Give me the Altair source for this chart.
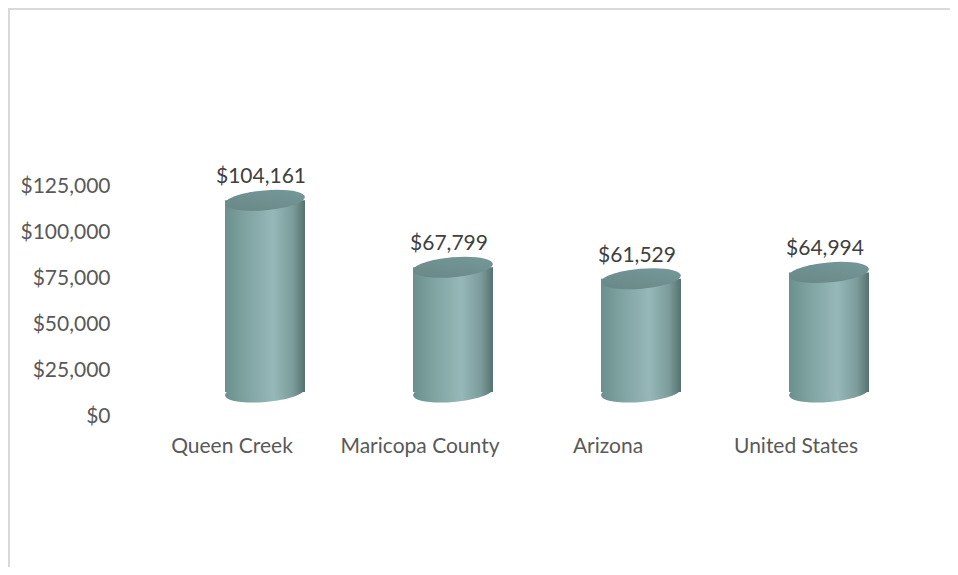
import altair as alt
import pandas as pd

categories = ["Queen Creek", "Maricopa County", "Arizona", "United States"]
values = [104161, 67799, 61529, 64994]
y_ticks = [0, 25000, 50000, 75000, 100000, 125000]

df = pd.DataFrame({"place": categories, "income": values})

FONT = "Lato"
FS = 21
DX = 33
DY = -24

side_grad = alt.Gradient(
    gradient="linear", x1=0, x2=1, y1=0, y2=0,
    stops=[
        alt.GradientStop(offset=0.0, color="#6b8f8d"),
        alt.GradientStop(offset=0.25, color="#7ea3a1"),
        alt.GradientStop(offset=0.6, color="#96b8b8"),
        alt.GradientStop(offset=0.85, color="#7b9c9b"),
        alt.GradientStop(offset=1.0, color="#55726f"),
    ],
)
top_grad = alt.Gradient(
    gradient="linear", x1=0, x2=1, y1=1, y2=0,
    stops=[
        alt.GradientStop(offset=0.0, color="#668785"),
        alt.GradientStop(offset=1.0, color="#78999a"),
    ],
)

ellipse = ("M -1 0 C -1 -0.138 -0.5523 -0.25 0 -0.25 C 0.5523 -0.25 1 -0.138 1 0 "
           "C 1 0.138 0.5523 0.25 0 0.25 C -0.5523 0.25 -1 0.138 -1 0 Z")

x_enc = alt.X("place:N", sort=categories, title=None,
              scale=alt.Scale(paddingInner=0.574, paddingOuter=0.287),
              axis=alt.Axis(labelAngle=0, domain=False, ticks=False, labelPadding=19,
                            labelFontSize=FS, labelColor="#595959", labelFont=FONT))
y_scale = alt.Scale(domain=[0, 150000], nice=False)

base = alt.Chart(df)

axis_layer = base.mark_bar(opacity=0).encode(
    x=x_enc,
    y=alt.Y("income:Q", scale=y_scale, title=None,
            axis=alt.Axis(values=y_ticks, format="$,.0f", domain=False, ticks=False, grid=False,
                          labelPadding=28, labelFontSize=FS, labelColor="#595959", labelFont=FONT)),
)

side = base.mark_bar(size=80, fill=side_grad, xOffset=DX, yOffset=DY, y2Offset=DY).encode(
    x=alt.X("place:N", sort=categories),
    y=alt.Y("income:Q", scale=y_scale),
)

bottom = base.mark_point(shape=ellipse, size=6400, filled=True, fill=side_grad, opacity=1,
                         strokeWidth=0, angle=355, xOffset=DX, yOffset=DY).encode(
    x=alt.X("place:N", sort=categories),
    y=alt.datum(0),
)

top = base.mark_point(shape=ellipse, size=6400, filled=True, fill=top_grad, opacity=1,
                      strokeWidth=0, angle=355, xOffset=DX, yOffset=DY).encode(
    x=alt.X("place:N", sort=categories),
    y=alt.Y("income:Q", scale=y_scale),
)

labels = base.mark_text(font=FONT, fontSize=FS, color="#404040", baseline="middle",
                        xOffset=DX - 4, yOffset=DY - 23).encode(
    x=alt.X("place:N", sort=categories),
    y=alt.Y("income:Q", scale=y_scale),
    text=alt.Text("income:Q", format="$,.0f"),
)

frame_df = pd.DataFrame({"a": [0]})
left_border = alt.Chart(frame_df).mark_rule(color="#d9d9d9", strokeWidth=2).encode(
    x=alt.value(-129), y=alt.value(-132), y2=alt.value(430))
top_border = alt.Chart(frame_df).mark_rule(color="#d9d9d9", strokeWidth=2).encode(
    x=alt.value(-130), x2=alt.value(820), y=alt.value(-131))

chart = alt.layer(axis_layer, bottom, side, top, labels, left_border, top_border).properties(
    width=752, height=276,
    background="white",
    autosize=alt.AutoSizeParams(type="none"),
    padding={"left": 130, "top": 132, "right": 60, "bottom": 151},
).configure_view(strokeWidth=0, stroke="transparent")

chart.save("out.html", embed_options={"renderer": "svg", "actions": False})
